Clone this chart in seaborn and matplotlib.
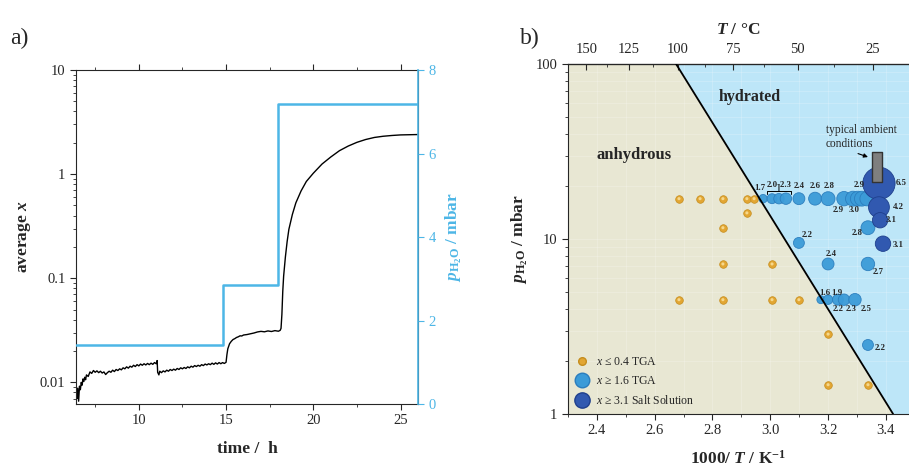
import numpy as np
import pandas as pd
import matplotlib
matplotlib.use("Agg")
import matplotlib.pyplot as plt
import matplotlib.colors as mcolors
import matplotlib.transforms as mtransforms
from matplotlib.lines import Line2D
from matplotlib.ticker import FixedLocator, FuncFormatter, LogLocator, NullFormatter, MultipleLocator
import seaborn as sns

# ---------------- panel a data ----------------
time_h = [6.40, 6.45, 6.50, 6.55, 6.60, 6.65, 6.70, 6.75, 6.80, 6.85, 6.90, 6.95, 7.00, 7.10, 7.20, 7.30,
          7.40, 7.50, 7.60, 7.70, 7.80, 7.90, 8.00, 8.10, 8.20, 8.30, 8.40, 8.50, 8.60, 8.70, 8.80, 8.90,
          9.00, 9.10, 9.20, 9.30, 9.40, 9.50, 9.60, 9.70, 9.80, 9.90, 10.0, 10.1, 10.2, 10.3, 10.4, 10.5,
          10.6, 10.7, 10.8, 10.9, 11.0, 11.05, 11.08, 11.15, 11.2, 11.3, 11.4, 11.5, 11.6, 11.7, 11.8, 11.9,
          12.0, 12.1, 12.2, 12.3, 12.4, 12.5, 12.6, 12.7, 12.8, 12.9, 13.0, 13.1, 13.2, 13.3, 13.4, 13.5,
          13.6, 13.7, 13.8, 13.9, 14.0, 14.1, 14.2, 14.3, 14.4, 14.5, 14.6, 14.7, 14.8, 14.9, 15.0, 15.05,
          15.1, 15.2, 15.3, 15.4, 15.5, 15.6, 15.7, 15.8, 15.9, 16.0, 16.2, 16.4, 16.6, 16.8, 17.0, 17.2,
          17.4, 17.6, 17.8, 18.0, 18.1, 18.15, 18.2, 18.25, 18.3, 18.4, 18.5, 18.6, 18.8, 19.0, 19.3, 19.6,
          20.0, 20.5, 21.0, 21.5, 22.0, 22.5, 23.0, 23.5, 24.0, 24.5, 25.0, 25.5, 26.0]
avg_x = [0.0080, 0.0070, 0.0088, 0.0066, 0.0092, 0.0085, 0.0100, 0.0094, 0.0108, 0.0102, 0.0112, 0.0106,
         0.0118, 0.0114, 0.0126, 0.0122, 0.0130, 0.0125, 0.0129, 0.0124, 0.0128, 0.0123, 0.0126, 0.0119,
         0.0124, 0.0128, 0.0125, 0.0131, 0.0127, 0.0133, 0.0130, 0.0135, 0.0132, 0.0138, 0.0135, 0.0141,
         0.0137, 0.0143, 0.0140, 0.0146, 0.0142, 0.0148, 0.0144, 0.0150, 0.0146, 0.0151, 0.0147, 0.0152,
         0.0148, 0.0153, 0.0149, 0.0155, 0.0151, 0.0162, 0.0125, 0.0118, 0.0128, 0.0124, 0.0129, 0.0126,
         0.0131, 0.0128, 0.0133, 0.0130, 0.0134, 0.0131, 0.0136, 0.0133, 0.0138, 0.0135, 0.0139, 0.0136,
         0.0141, 0.0138, 0.0143, 0.0140, 0.0145, 0.0142, 0.0146, 0.0143, 0.0148, 0.0145, 0.0150, 0.0147,
         0.0151, 0.0148, 0.0153, 0.0149, 0.0154, 0.0150, 0.0155, 0.0151, 0.0155, 0.0152, 0.0156, 0.0185,
         0.0210, 0.0235, 0.0248, 0.0258, 0.0263, 0.0270, 0.0274, 0.0280, 0.0279, 0.0285, 0.0288, 0.0293,
         0.0298, 0.0305, 0.0309, 0.0306, 0.0312, 0.0308, 0.0314, 0.0310, 0.0316, 0.0330, 0.045, 0.075,
         0.105, 0.160, 0.225, 0.295, 0.41, 0.53, 0.69, 0.85, 1.02, 1.25, 1.46, 1.68, 1.86, 2.02, 2.15,
         2.25, 2.31, 2.35, 2.38, 2.39, 2.40]
step_time = [6.4, 14.8, 17.95, 26.0]
step_p = [1.41, 2.85, 7.19, 7.19]

# ---------------- panel b data ----------------
gold_invT = [2.684, 2.757, 2.836, 2.919, 2.944, 2.919, 2.836, 2.836, 3.006, 2.684, 2.836, 3.006, 3.099,
             3.200, 3.200, 3.338]
gold_p = [17, 17, 17, 17, 17, 14.1, 11.6, 7.2, 7.2, 4.5, 4.5, 4.5, 4.5, 2.86, 1.47, 1.47]

tga_invT = [2.975, 3.006, 3.030, 3.054, 3.099, 3.155, 3.200, 3.255, 3.286, 3.303, 3.317, 3.335,
            3.338, 3.099, 3.200, 3.338, 3.175, 3.200, 3.234, 3.255, 3.293, 3.338]
tga_p = [17, 17, 17, 17, 17, 17, 17, 17, 17, 17, 17, 17,
         11.6, 9.5, 7.2, 7.2, 4.5, 4.5, 4.5, 4.5, 4.5, 2.48]
tga_x = [1.7, 2.0, 2.1, 2.3, 2.4, 2.6, 2.8, 2.9, 3.0, 3.0, 3.0, 2.9,
         2.8, 2.2, 2.4, 2.7, 1.6, 1.9, 2.2, 2.3, 2.5, 2.2]
tga_labels = ["1.7", "", "", "", "2.4", "2.6", "2.8", "2.9", "3.0", "", "", "2.9",
              "2.8", "2.2", "2.4", "2.7", "1.6", "1.9", "2.2", "2.3", "2.5", "2.2"]
group_label = "2.0-2.3"
group_invT = 3.030
group_p = 17

salt_invT = [3.376, 3.376, 3.380, 3.390]
salt_p = [20.8, 15.2, 12.8, 9.4]
salt_x = [6.5, 4.2, 3.1, 3.1]
salt_labels = ["6.5", "4.2", "3.1", "3.1"]

boundary_invT = [2.674, 3.425]
boundary_p = [100, 1]
ambient_invT = [3.351, 3.386]
ambient_p = [21.2, 31.6]
ambient_arrow_tip = (3.338, 29.4)
ambient_text_pos = (3.193, 38.3)
celsius_ticks = [150, 125, 100, 75, 50, 25]
celsius_minor = [137.5, 112.5, 87.5, 62.5, 37.5, 12.5]

# label offsets (points) - styling only
tga_offsets = [(-2, 8), (0, 0), (0, 0), (0, 0), (0, 9), (0, 9), (1, 9), (-4, -8), (1, -8), (0, 0), (0, 0), (-6, 10),
               (-8, -4), (6, 6), (2, 7), (7, -6), (3, 5), (6, 5), (0, -7), (5, -7), (8, -7), (9, -2)]
salt_offsets = [(16, 0), (14, 0), (8, 0), (11, -1)]

# ---------------- style ----------------
sns.set_style("ticks")
plt.rcParams["font.family"] = ["Liberation Serif", "DejaVu Serif", "DejaVu Sans"]
plt.rcParams["mathtext.fontset"] = "custom"
plt.rcParams["mathtext.rm"] = "Liberation Serif"
plt.rcParams["mathtext.it"] = "Liberation Serif:italic"
plt.rcParams["mathtext.bf"] = "Liberation Serif:bold"
plt.rcParams["mathtext.bfit"] = "Liberation Serif:italic:bold"

BLUE_LINE = "#4db6e6"
GOLD = "#e2a633"
GOLD_EDGE = "#c58d1d"
LIGHT = "#3b9bd8"
LIGHT_EDGE = "#2b7dbd"
DARK = "#3159b0"
DARK_EDGE = "#1f3f8c"
BEIGE = "#e8e7d3"
SKY = "#bde6f8"

fig = plt.figure(figsize=(9.09, 4.71), dpi=100)

# ======== panel a ========
axa = fig.add_axes([76 / 909, 1 - 404 / 471, (418 - 76) / 909, (404 - 70) / 471])
dfa = pd.DataFrame({"t": time_h, "x": avg_x})
sns.lineplot(data=dfa, x="t", y="x", ax=axa, color="black", lw=1.0, estimator=None)
axa.set_yscale("log")
axa.set_ylim(0.0062, 10)
axa.set_xlim(6.4, 26)
axa.xaxis.set_major_locator(FixedLocator([10, 15, 20, 25]))
axa.xaxis.set_minor_locator(MultipleLocator(2.5))
axa.yaxis.set_major_locator(LogLocator(base=10, numticks=10))
axa.yaxis.set_minor_locator(LogLocator(base=10, subs=np.arange(2, 10), numticks=20))
axa.yaxis.set_major_formatter(FuncFormatter(lambda v, p: f"{v:g}"))
axa.yaxis.set_minor_formatter(NullFormatter())
axa.tick_params(axis="both", which="major", labelsize=10.5, length=4, width=0.8)
axa.tick_params(axis="both", which="minor", length=2.5, width=0.6)
axa.tick_params(axis="x", top=True, which="both")
axa.set_xlabel("time /  h", fontsize=12.5, fontweight="bold", labelpad=10)
axa.set_ylabel(r"average $\mathbfit{x}$", fontsize=12.5, fontweight="bold", labelpad=5)

axa2 = axa.twinx()
sns.lineplot(x=step_time, y=step_p, ax=axa2, color=BLUE_LINE, lw=1.8, drawstyle="steps-post", estimator=None)
axa2.set_ylim(0, 8)
axa2.yaxis.set_major_locator(FixedLocator([0, 2, 4, 6, 8]))
axa2.tick_params(axis="y", colors=BLUE_LINE, labelsize=10.5, length=4, width=0.8)
axa2.spines["right"].set_color(BLUE_LINE)
axa2.spines["right"].set_linewidth(1.2)
axa2.set_ylabel(r"$\mathbfit{p}_{\mathbf{H}_\mathbf{2}\mathbf{O}}$ / mbar", fontsize=12.5,
                fontweight="bold", color=BLUE_LINE, labelpad=6)
for s in ["top", "left", "bottom"]:
    axa2.spines[s].set_visible(False)
for s in ["top", "left", "bottom"]:
    axa.spines[s].set_linewidth(0.8)

# ======== panel b ========
axb = fig.add_axes([568 / 909, 1 - 414 / 471, (909 - 568) / 909, (414 - 64) / 471])
axb.set_yscale("log")
axb.set_xlim(2.3, 3.48)
axb.set_ylim(1, 100)
axb.set_facecolor(SKY)
axb.fill_betweenx(boundary_p[::-1], axb.get_xlim()[0], boundary_invT[::-1], color=BEIGE, lw=0, zorder=0)
axb.grid(True, which="both", color="white", alpha=0.22, lw=0.6, zorder=0.5)
axb.set_axisbelow(True)

# gold TGA points (x <= 0.4)
sns.scatterplot(x=gold_invT, y=gold_p, ax=axb, color=GOLD, edgecolor=GOLD_EDGE, linewidth=0.5, s=30, zorder=3)
sns.scatterplot(x=gold_invT, y=gold_p, ax=axb, color="#f6d88c", edgecolor="none", s=5, zorder=3.1)

size_norm = mcolors.PowerNorm(gamma=2, vmin=0, vmax=6.5)
dft = pd.DataFrame({"invT": tga_invT, "p": tga_p, "x": tga_x})
sns.scatterplot(data=dft, x="invT", y="p", size="x", sizes=(0, 540), size_norm=size_norm,
                color=LIGHT, edgecolor=LIGHT_EDGE, linewidth=0.6, alpha=0.95, legend=False, ax=axb, zorder=3)
dfs = pd.DataFrame({"invT": salt_invT, "p": salt_p, "x": salt_x})
sns.scatterplot(data=dfs, x="invT", y="p", size="x", sizes=(0, 540), size_norm=size_norm,
                color=DARK, edgecolor=DARK_EDGE, linewidth=0.6, legend=False, ax=axb, zorder=4)

# phase boundary
sns.lineplot(x=boundary_invT, y=boundary_p, ax=axb, color="black", lw=1.3, estimator=None, zorder=5)

# number labels
for xv, pv, lab, off in zip(tga_invT, tga_p, tga_labels, tga_offsets):
    if lab:
        axb.annotate(lab, (xv, pv), xytext=off, textcoords="offset points", ha="center", va="center",
                     fontsize=6.3, fontweight="bold", zorder=6)
for xv, pv, lab, off in zip(salt_invT, salt_p, salt_labels, salt_offsets):
    axb.annotate(lab, (xv, pv), xytext=off, textcoords="offset points", ha="center", va="center",
                 fontsize=6.3, fontweight="bold", zorder=6)
# bracket for grouped label, placed just above the circles
bracket_trans = mtransforms.offset_copy(axb.transData, fig=fig, x=0, y=5.5, units="points")
axb.annotate(group_label, xy=(group_invT, group_p), xycoords=bracket_trans,
             xytext=(group_invT, group_p), textcoords=mtransforms.offset_copy(axb.transData, fig=fig, x=0, y=10,
                                                                               units="points"),
             ha="center", va="center", fontsize=6.3, fontweight="bold", zorder=6,
             arrowprops=dict(arrowstyle="-[, widthB=1.4, lengthB=0.4", lw=0.7, color="black",
                             shrinkA=0, shrinkB=0, mutation_scale=6))

# ambient conditions box
axb.fill_between(ambient_invT, ambient_p[0], ambient_p[1], facecolor="#7f7f7f", edgecolor="#333333",
                 lw=1.0, zorder=7)
axb.annotate("typical ambient\nconditions", xy=ambient_arrow_tip, xytext=ambient_text_pos, textcoords="data",
             ha="left", va="center", fontsize=8.3, linespacing=1.2, zorder=7,
             arrowprops=dict(arrowstyle="-|>", lw=0.8, color="black", mutation_scale=6,
                             shrinkA=1, shrinkB=0, relpos=(0.3, 0.0)))

axb.text(2.53, 30.2, "anhydrous", fontsize=12, fontweight="bold", ha="center", va="center", zorder=6)
axb.text(2.93, 64.8, "hydrated", fontsize=11.5, fontweight="bold", ha="center", va="center", zorder=6)

axb.xaxis.set_major_locator(FixedLocator([2.4, 2.6, 2.8, 3.0, 3.2, 3.4]))
axb.xaxis.set_major_formatter(FuncFormatter(lambda v, p: f"{v:.1f}"))
axb.xaxis.set_minor_locator(MultipleLocator(0.1))
axb.yaxis.set_major_locator(LogLocator(base=10, numticks=10))
axb.yaxis.set_minor_locator(LogLocator(base=10, subs=np.arange(2, 10), numticks=20))
axb.yaxis.set_major_formatter(FuncFormatter(lambda v, p: f"{v:g}"))
axb.yaxis.set_minor_formatter(NullFormatter())
axb.tick_params(axis="both", which="major", labelsize=10.5, length=4, width=0.8)
axb.tick_params(axis="both", which="minor", length=2.5, width=0.6)
axb.spines["right"].set_visible(False)
axb.spines["top"].set_linewidth(0.9)
axb.set_xlabel(r"1000/ $\mathbfit{T}$ / K$^{\mathbf{-1}}$", fontsize=12.5, fontweight="bold", labelpad=9)
axb.set_ylabel(r"$\mathbfit{p}_{\mathbf{H}_\mathbf{2}\mathbf{O}}$ / mbar", fontsize=12.5,
               fontweight="bold", labelpad=4)


def inv_to_c(v):
    v = np.asarray(v, dtype=float)
    with np.errstate(divide="ignore", invalid="ignore"):
        return 1000.0 / v - 273.15


def c_to_inv(c):
    c = np.asarray(c, dtype=float)
    with np.errstate(divide="ignore", invalid="ignore"):
        return 1000.0 / (c + 273.15)


sec = axb.secondary_xaxis("top", functions=(inv_to_c, c_to_inv))
sec.xaxis.set_major_locator(FixedLocator(celsius_ticks))
sec.xaxis.set_minor_locator(FixedLocator(celsius_minor))
sec.xaxis.set_major_formatter(FuncFormatter(lambda v, p: f"{v:g}"))
sec.tick_params(axis="x", which="major", direction="in", labelsize=10.5, length=4, width=0.8, pad=6)
sec.tick_params(axis="x", which="minor", direction="in", length=2.5, width=0.6)
sec.set_xlabel(r"$\mathbfit{T}$ / °C", fontsize=12.5, fontweight="bold", labelpad=6)

# legend
handles = [
    Line2D([], [], marker="o", ls="", markerfacecolor=GOLD, markeredgecolor=GOLD_EDGE, markersize=5.5),
    Line2D([], [], marker="o", ls="", markerfacecolor=LIGHT, markeredgecolor=LIGHT_EDGE, markersize=10.5),
    Line2D([], [], marker="o", ls="", markerfacecolor=DARK, markeredgecolor=DARK_EDGE, markersize=11),
]
labels = [r"$\mathit{x}$ ≤ 0.4 TGA", r"$\mathit{x}$ ≥ 1.6 TGA", r"$\mathit{x}$ ≥ 3.1 Salt Solution"]
axb.legend(handles, labels, loc="lower left", bbox_to_anchor=(0.0, 0.0), frameon=False, fontsize=8.5,
           handletextpad=0.6, labelspacing=0.6, borderaxespad=0.2, handlelength=1.2)

fig.text(10 / 909, 1 - 38 / 471, "a)", fontsize=17, va="center", ha="left")
fig.text(520 / 909, 1 - 38 / 471, "b)", fontsize=17, va="center", ha="left")

fig.savefig("out.png", dpi=100)
